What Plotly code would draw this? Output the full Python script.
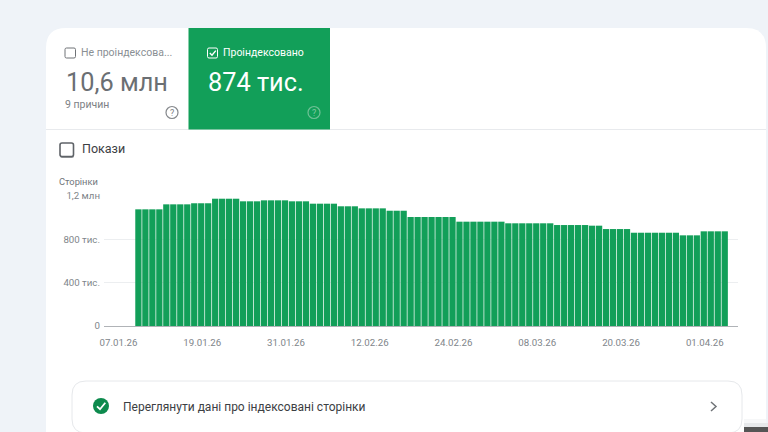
import pandas as pd
import plotly.graph_objects as go

# --- data -------------------------------------------------------------
dates = pd.date_range("2026-01-10", periods=85, freq="D")
pages = (
    [1077000] * 4 + [1123000] * 4 + [1133000] * 3 + [1175000] * 4 + [1151000] * 3
    + [1160000] * 4 + [1151000] * 3 + [1129000] * 4 + [1105000] * 3 + [1086000] * 4
    + [1064000] * 3 + [1006000] * 7 + [963000] * 7 + [948000] * 7 + [932000] * 5
    + [926000] * 2 + [895000] * 4 + [861000] * 7 + [837000] * 3 + [874000] * 4
)
tick_dates = ["2026-01-07", "2026-01-19", "2026-01-31", "2026-02-12",
              "2026-02-24", "2026-03-08", "2026-03-20", "2026-04-01"]
tick_labels = ["07.01.26", "19.01.26", "31.01.26", "12.02.26",
               "24.02.26", "08.03.26", "20.03.26", "01.04.26"]
y_ticks = [0, 400000, 800000, 1200000]
y_labels = ["0", "400 тис.", "800 тис.", "1,2 млн"]

GREEN = "#129f59"
FONT = "Roboto"
PL, PR, PT, PB = 104, 738, 196, 326   # plot box in page pixels


def X(px):
    return (px - PL) / (PR - PL)


def Y(py):
    return (PB - py) / (PB - PT)


def rrect(x0, y0, x1, y1, r):
    return (f"M {X(x0+r)} {Y(y0)} L {X(x1-r)} {Y(y0)} Q {X(x1)} {Y(y0)} {X(x1)} {Y(y0+r)} "
            f"L {X(x1)} {Y(y1-r)} Q {X(x1)} {Y(y1)} {X(x1-r)} {Y(y1)} "
            f"L {X(x0+r)} {Y(y1)} Q {X(x0)} {Y(y1)} {X(x0)} {Y(y1-r)} "
            f"L {X(x0)} {Y(y0+r)} Q {X(x0)} {Y(y0)} {X(x0+r)} {Y(y0)} Z")


def poly(pts):
    return "M " + " L ".join(f"{X(a)} {Y(b)}" for a, b in pts)


shapes = []


def path(d, fill="rgba(0,0,0,0)", line=None, w=1, layer="below"):
    shapes.append(dict(type="path", xref="paper", yref="paper", path=d, fillcolor=fill,
                       line=dict(color=line or "rgba(0,0,0,0)", width=w if line else 0),
                       layer=layer))


def rect(x0, y0, x1, y1, fill, layer="below"):
    shapes.append(dict(type="rect", xref="paper", yref="paper", x0=X(x0), x1=X(x1),
                       y0=Y(y1), y1=Y(y0), fillcolor=fill, line=dict(width=0), layer=layer))


def circle(x0, y0, x1, y1, fill="rgba(0,0,0,0)", line=None, w=1, layer="below"):
    shapes.append(dict(type="circle", xref="paper", yref="paper", x0=X(x0), x1=X(x1),
                       y0=Y(y1), y1=Y(y0), fillcolor=fill,
                       line=dict(color=line or "rgba(0,0,0,0)", width=w if line else 0),
                       layer=layer))


# page card
path(rrect(46, 28, 766, 470, 20), fill="#ffffff")
rect(46, 129, 766, 130, "#e8eaed")
# green tile
rect(188.5, 28, 330, 129.5, GREEN)
# bottom-right window shadow
rect(744, 419, 766, 423, "#f6f7f8")
rect(744, 423, 768, 427, "#e6e8ea")
rect(744, 427, 768, 432, "#555555")
# checkboxes
path(rrect(65, 48, 75.5, 58, 1.5), line="#6f7276", w=1)
path(rrect(207.5, 48, 217.5, 58, 1.5), line="#ffffff", w=1)
path(poly([(209.8, 53), (212, 55.2), (215.8, 50.6)]), line="#ffffff", w=1.4)
path(rrect(60, 145, 74, 158, 2), fill="#9a9c9f")
path(rrect(60, 143, 73.5, 156.5, 2), fill="#ffffff", line="#5f6368", w=1.6)
# help icons
circle(166, 106.5, 178, 118.5, line="#85888c", w=1.2)
circle(308, 106.5, 320, 118.5, line="#6fc196", w=1.2)
# lower card
path(rrect(72, 381, 742, 433, 14), fill="#ffffff", line="#e6e8eb", w=1)
circle(93, 398, 109, 414, fill="#0d8a4d")
path(poly([(97, 406.3), (100, 409.2), (105.3, 402.8)]), line="#ffffff", w=1.8)
path(poly([(711, 402), (716, 406.5), (711, 411)]), line="#6f7377", w=1.5)


def note(px, py, text, size, color, anchor="left", weight=None):
    return dict(xref="paper", yref="paper", x=X(px), y=Y(py), text=text, showarrow=False,
                xanchor=anchor, yanchor="middle", align=anchor, borderpad=0, borderwidth=0,
                font=dict(family=FONT, size=size, color=color, weight=weight or 400))


annotations = [
    note(81, 52.5, "Не проіндексова...", 10.5, "#8a8f94"),
    note(66, 82, "10,6 млн", 25.3, "#6b6f73"),
    note(65, 104, "9 причин", 10.5, "#7d8185"),
    note(172, 112.5, "?", 9, "#7d8084", "center"),
    note(223, 52.5, "Проіндексовано", 10.5, "#ffffff"),
    note(208, 82, "874 тис.", 25.3, "#ffffff"),
    note(314, 112.5, "?", 9, "#7fcaa2", "center"),
    note(82, 148.5, "Покази", 12.5, "#3c4043"),
    note(59, 181.5, "Сторінки", 9.3, "#70757a"),
    note(123, 406.5, "Переглянути дані про індексовані сторінки", 12, "#3c4043"),
]

fig = go.Figure(
    go.Bar(x=dates, y=pages, marker=dict(color=GREEN, line=dict(width=0)), hoverinfo="skip")
)
fig.update_layout(
    width=768, height=432,
    margin=dict(l=PL, r=768 - PR, t=PT, b=432 - PB, autoexpand=False),
    paper_bgcolor="#eff3f8", plot_bgcolor="rgba(0,0,0,0)",
    bargap=0.1, showlegend=False, shapes=shapes, annotations=annotations,
    font=dict(family=FONT, size=9.7, color="#80858a"),
    xaxis=dict(
        type="date", range=["2026-01-05 01:40", "2026-04-05 21:40"],
        tickmode="array", tickvals=tick_dates, ticktext=tick_labels,
        showgrid=False, ticks="", zeroline=False, showline=False,
        tickfont=dict(size=9.7, color="#80858a"), ticklabelstandoff=9, ticklabelshift=1,
    ),
    yaxis=dict(
        range=[0, 1200000], tickmode="array", tickvals=y_ticks, ticktext=y_labels,
        showgrid=True, gridcolor="#eceef0", gridwidth=1,
        zeroline=True, zerolinecolor="#b0b3b7", zerolinewidth=1, showline=False,
        ticks="", tickfont=dict(size=9.7, color="#80858a"), ticklabelstandoff=3,
    ),
)
fig.write_html("out.html", config=dict(displayModeBar=False),
               post_script="document.body.style.margin='0';")
